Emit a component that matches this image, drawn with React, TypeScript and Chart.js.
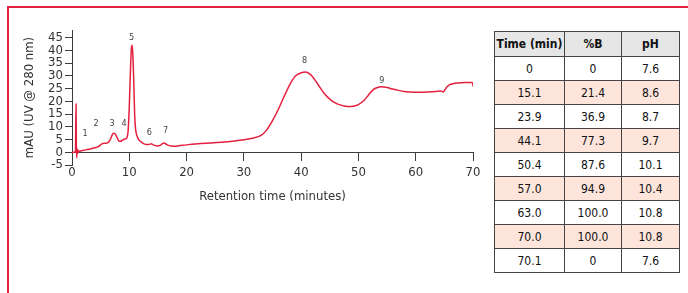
import React, { useEffect, useRef } from "react";
import { Chart, registerables } from "chart.js";

Chart.register(...registerables);

// Chromatogram trace (retention time in minutes, absorbance in mAU)
const retentionTimes = [
  0, 0.6, 0.7, 0.75, 0.82, 0.87, 0.95, 1.05, 1.2, 1.5, 2, 2.5, 3, 3.5, 4, 4.5, 5, 5.3, 5.7, 6.1,
  6.5, 6.8, 7.1, 7.35, 7.6, 7.9, 8.2, 8.5, 8.8, 9.1, 9.4, 9.6, 9.8, 10.0, 10.2, 10.4, 10.5, 10.65,
  10.8, 10.95, 11.1, 11.3, 11.6, 12.0, 12.5, 13.0, 13.5, 13.8, 14.2, 14.8, 15.4, 15.8, 16.1, 16.5,
  17.0, 17.7, 18.5, 20, 22, 24, 26, 28, 30, 31.5, 33, 34, 35, 36, 37, 38, 39, 40, 40.8, 41.7, 42.8,
  44, 45.2, 46.5, 47.5, 48.7, 50, 51, 51.8, 52.5, 53.2, 54, 55, 56, 57, 58, 59, 60, 62, 63.5, 64.3,
  64.8, 65.1, 65.4, 65.8, 66.5, 67.3, 68.5, 69.6, 69.95, 70,
];
const absorbance = [
  0, 0, 18.9, 5, -2.2, 1.5, -0.5, 0.8, 0.3, 0.5, 0.8, 1.0, 1.2, 1.5, 1.8, 2.1, 2.9, 3.4, 3.5, 3.6,
  4.3, 5.6, 7.2, 7.5, 7.0, 5.6, 4.4, 4.3, 4.8, 5.1, 5.3, 5.8, 8.5, 18, 32, 41.5, 42, 37,
  26, 14, 9, 6.8, 5.2, 4.2, 3.4, 3.0, 3.1, 3.3, 2.9, 2.5, 2.7, 3.4, 3.6, 3.1,
  2.6, 2.4, 2.5, 2.9, 3.3, 3.6, 3.9, 4.3, 4.9, 5.5, 6.6, 8.8, 12.4, 16.8, 21.8, 26.5, 29.9, 31.2, 31.5, 30.4, 27.1,
  23.2, 20.5, 18.8, 18.2, 18, 18.7, 20.4, 22.6, 24.4, 25.3, 25.7, 25.4, 24.8, 24.3, 23.9, 23.7, 23.6, 23.7, 23.9, 24.1,
  23.7, 24.5, 25.5, 26.4, 26.9, 27.2, 27.4, 27.4, 27.3, 25.8,
];

// Peak number annotations
const peakLabels = ["1", "2", "3", "4", "5", "6", "7", "8", "9"];
const peakLabelX = [2.3, 4.2, 7.0, 9.1, 10.4, 13.5, 16.35, 40.6, 54.1];
const peakLabelY = [7.5, 11.4, 11.2, 11.2, 44.8, 7.8, 8.3, 35.8, 28.0];

// Axis ranges
const xMin = 0;
const xMax = 70;
const xStep = 10;
const yMin = -5;
const yMax = 48;
const yStep = 5;

// Gradient table
const tableHeaders = ["Time (min)", "%B", "pH"];
const gradientTime = ["0", "15.1", "23.9", "44.1", "50.4", "57.0", "63.0", "70.0", "70.1"];
const percentB = ["0", "21.4", "36.9", "77.3", "87.6", "94.9", "100.0", "100.0", "0"];
const phValues = ["7.6", "8.6", "8.7", "9.7", "10.1", "10.4", "10.8", "10.8", "7.6"];

const FONT = "'DejaVu Sans Condensed', 'DejaVu Sans', sans-serif";
const RED = "#e4203f";
const AXIS = "#3c3c3c";

const peakLabelPlugin = {
  id: "peakLabels",
  afterDatasetsDraw(chart: any) {
    const { ctx, scales } = chart;
    ctx.save();
    ctx.font = `9px ${FONT}`;
    ctx.fillStyle = "#444";
    ctx.textAlign = "center";
    ctx.textBaseline = "middle";
    peakLabels.forEach((t, i) => {
      ctx.fillText(t, scales.x.getPixelForValue(peakLabelX[i]), scales.y.getPixelForValue(peakLabelY[i]));
    });
    ctx.restore();
  },
};

export default function App() {
  const canvasRef = useRef<HTMLCanvasElement | null>(null);

  useEffect(() => {
    if (!canvasRef.current) return;
    const data = retentionTimes.map((t, i) => ({ x: t, y: absorbance[i] }));
    const chart = new Chart(canvasRef.current, {
      type: "line",
      data: {
        datasets: [
          {
            data,
            borderColor: RED,
            borderWidth: 1.5,
            pointRadius: 0,
            cubicInterpolationMode: "monotone",
            fill: false,
          },
        ],
      },
      options: {
        animation: false,
        responsive: false,
        devicePixelRatio: 1,
        layout: { padding: { left: 22, top: 30, right: 15, bottom: 128 } },
        plugins: { legend: { display: false }, tooltip: { enabled: false } },
        scales: {
          x: {
            type: "linear",
            position: { y: 0 } as any,
            min: xMin,
            max: xMax,
            afterFit: (s: any) => {
              s.height = 60;
            },
            ticks: {
              stepSize: xStep,
              color: "#333",
              font: { family: FONT, size: 13 },
              padding: 5,
              maxRotation: 0,
            },
            grid: { drawOnChartArea: false, drawTicks: true, tickLength: 8, color: AXIS },
            border: { color: AXIS, width: 1 },
            title: {
              display: true,
              text: "Retention time (minutes)",
              color: "#333",
              font: { family: FONT, size: 13 },
              padding: { top: 0, bottom: 8 },
            },
          },
          y: {
            type: "linear",
            min: yMin,
            max: yMax,
            afterFit: (s: any) => {
              s.width = 50;
            },
            ticks: {
              stepSize: yStep,
              includeBounds: false,
              maxTicksLimit: 30,
              autoSkip: false,
              color: "#333",
              font: { family: FONT, size: 13 },
              padding: 2,
            },
            grid: { drawOnChartArea: false, drawTicks: true, tickLength: 7, color: AXIS },
            border: { color: AXIS, width: 1 },
            title: {
              display: true,
              text: "mAU (UV @ 280 nm)",
              color: "#333",
              font: { family: FONT, size: 13 },
              padding: { top: 0, bottom: 0 },
            },
          },
        },
      },
      plugins: [peakLabelPlugin],
    });
    return () => chart.destroy();
  }, []);

  const cell: React.CSSProperties = {
    border: "1px solid #444",
    textAlign: "center",
    padding: 0,
    height: 23,
    whiteSpace: "nowrap",
    lineHeight: "14px",
  };

  return (
    <div
      style={{
        position: "absolute",
        left: 0,
        top: 0,
        width: 688,
        height: 293,
        overflow: "hidden",
        background: "#fff",
        fontFamily: FONT,
      }}
    >
      <div
        style={{
          position: "absolute",
          left: 7,
          top: 6,
          width: 700,
          height: 300,
          borderLeft: `2px solid ${RED}`,
          borderTop: `2px solid ${RED}`,
        }}
      />
      <canvas ref={canvasRef} width={488} height={293} style={{ position: "absolute", left: 0, top: 0 }} />
      <table
        style={{
          position: "absolute",
          left: 494,
          top: 31,
          width: 185,
          borderCollapse: "collapse",
          tableLayout: "fixed",
          fontFamily: FONT,
          fontSize: 12,
          color: "#111",
        }}
      >
        <colgroup>
          <col style={{ width: 70 }} />
          <col style={{ width: 57 }} />
          <col style={{ width: 58 }} />
        </colgroup>
        <thead>
          <tr style={{ background: "#e6e6e6" }}>
            {tableHeaders.map((h) => (
              <th key={h} style={{ ...cell, height: 24, fontWeight: "bold" }}>
                {h}
              </th>
            ))}
          </tr>
        </thead>
        <tbody>
          {gradientTime.map((t, i) => (
            <tr key={i} style={{ background: i % 2 === 1 ? "#fde5dc" : "#fff" }}>
              <td style={cell}>{t}</td>
              <td style={cell}>{percentB[i]}</td>
              <td style={cell}>{phValues[i]}</td>
            </tr>
          ))}
        </tbody>
      </table>
    </div>
  );
}
